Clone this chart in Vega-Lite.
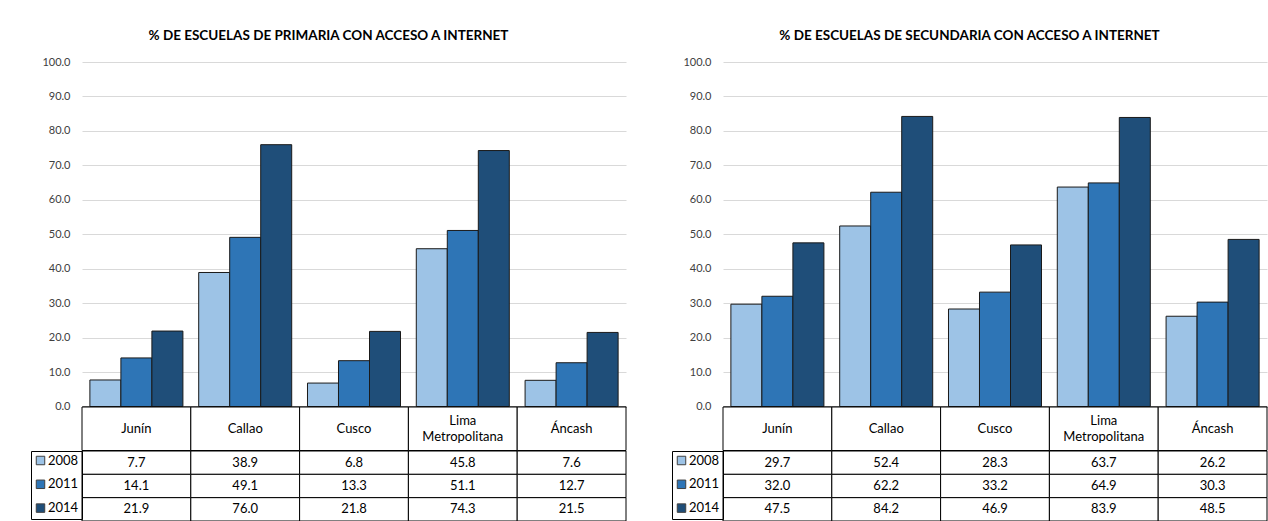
{
  "$schema": "https://vega.github.io/schema/vega-lite/v6.json",
  "background": "white",
  "padding": {"left": 30, "top": 28, "right": 0, "bottom": 0},
  "config": {
    "font": "Lato",
    "view": {"stroke": null},
    "text": {"font": "Lato"}
  },
  "datasets": {
    "escuelas": [
      {"nivel": "Primaria", "region": "Junín", "year": "2008", "value": 7.7},
      {"nivel": "Primaria", "region": "Junín", "year": "2011", "value": 14.1},
      {"nivel": "Primaria", "region": "Junín", "year": "2014", "value": 21.9},
      {"nivel": "Primaria", "region": "Callao", "year": "2008", "value": 38.9},
      {"nivel": "Primaria", "region": "Callao", "year": "2011", "value": 49.1},
      {"nivel": "Primaria", "region": "Callao", "year": "2014", "value": 76.0},
      {"nivel": "Primaria", "region": "Cusco", "year": "2008", "value": 6.8},
      {"nivel": "Primaria", "region": "Cusco", "year": "2011", "value": 13.3},
      {"nivel": "Primaria", "region": "Cusco", "year": "2014", "value": 21.8},
      {"nivel": "Primaria", "region": "Lima Metropolitana", "year": "2008", "value": 45.8},
      {"nivel": "Primaria", "region": "Lima Metropolitana", "year": "2011", "value": 51.1},
      {"nivel": "Primaria", "region": "Lima Metropolitana", "year": "2014", "value": 74.3},
      {"nivel": "Primaria", "region": "Áncash", "year": "2008", "value": 7.6},
      {"nivel": "Primaria", "region": "Áncash", "year": "2011", "value": 12.7},
      {"nivel": "Primaria", "region": "Áncash", "year": "2014", "value": 21.5},
      {"nivel": "Secundaria", "region": "Junín", "year": "2008", "value": 29.7},
      {"nivel": "Secundaria", "region": "Junín", "year": "2011", "value": 32.0},
      {"nivel": "Secundaria", "region": "Junín", "year": "2014", "value": 47.5},
      {"nivel": "Secundaria", "region": "Callao", "year": "2008", "value": 52.4},
      {"nivel": "Secundaria", "region": "Callao", "year": "2011", "value": 62.2},
      {"nivel": "Secundaria", "region": "Callao", "year": "2014", "value": 84.2},
      {"nivel": "Secundaria", "region": "Cusco", "year": "2008", "value": 28.3},
      {"nivel": "Secundaria", "region": "Cusco", "year": "2011", "value": 33.2},
      {"nivel": "Secundaria", "region": "Cusco", "year": "2014", "value": 46.9},
      {"nivel": "Secundaria", "region": "Lima Metropolitana", "year": "2008", "value": 63.7},
      {"nivel": "Secundaria", "region": "Lima Metropolitana", "year": "2011", "value": 64.9},
      {"nivel": "Secundaria", "region": "Lima Metropolitana", "year": "2014", "value": 83.9},
      {"nivel": "Secundaria", "region": "Áncash", "year": "2008", "value": 26.2},
      {"nivel": "Secundaria", "region": "Áncash", "year": "2011", "value": 30.3},
      {"nivel": "Secundaria", "region": "Áncash", "year": "2014", "value": 48.5}
    ]
  },
  "data": {"name": "escuelas"},
  "resolve": {"legend": {"color": "independent"}},
  "spacing": 44,
  "hconcat": [
    {
      "title": {"text": "% DE ESCUELAS DE PRIMARIA CON ACCESO A INTERNET", "fontSize": 13.5, "font": "Lato", "fontWeight": "bold", "color": "#000000", "anchor": "middle", "frame": "bounds", "offset": 14},
      "bounds": "flush",
      "spacing": 0,
      "resolve": {"legend": {"color": "independent"}},
      "transform": [{"filter": "datum.nivel == 'Primaria'"}],
      "vconcat": [
        {
          "width": 544, "height": 344.5,
          "mark": {"type": "bar", "stroke": "#1a1a1a", "strokeWidth": 1},
          "encoding": {
            "x": {"field": "region", "type": "nominal", "sort": ["Junín", "Callao", "Cusco", "Lima Metropolitana", "Áncash"], "scale": {"paddingInner": 0.145, "paddingOuter": 0.0725}, "axis": {"labels": false, "ticks": false, "title": null, "domainColor": "#595959", "domainWidth": 1.5}},
            "xOffset": {"field": "year", "type": "nominal", "sort": ["2008", "2011", "2014"]},
            "y": {"field": "value", "type": "quantitative", "scale": {"domain": [0, 100]}, "axis": {"title": null, "values": [0, 10, 20, 30, 40, 50, 60, 70, 80, 90, 100], "format": ".1f", "grid": true, "gridColor": "#d9d9d9", "domain": false, "ticks": false, "labelPadding": 12, "labelFontSize": 11, "labelColor": "#404040"}},
            "color": {"field": "year", "type": "nominal", "scale": {"domain": ["2008", "2011", "2014"], "range": ["#9dc3e6", "#2e75b6", "#1f4e79"]}, "legend": null}
          }
        },
        {
          "width": 544, "height": 43.5,
          "transform": [{"filter": "datum.year == '2008'"}],
          "encoding": {
            "x": {"field": "region", "type": "nominal", "sort": ["Junín", "Callao", "Cusco", "Lima Metropolitana", "Áncash"], "scale": {"paddingInner": 0, "paddingOuter": 0}, "axis": null}
          },
          "layer": [
            {"mark": {"type": "rect", "fill": "white", "stroke": "#000000", "strokeWidth": 1}},
            {"transform": [{"filter": "indexof(datum.region, ' ') < 0"}], "mark": {"type": "text", "fontSize": 13, "color": "#000000", "baseline": "middle"}, "encoding": {"text": {"field": "region", "type": "nominal"}}},
            {"transform": [{"filter": "indexof(datum.region, ' ') >= 0"}], "mark": {"type": "text", "fontSize": 13, "color": "#000000", "lineBreak": " ", "lineHeight": 16, "baseline": "middle", "dy": -8}, "encoding": {"text": {"field": "region", "type": "nominal"}}}
          ]
        },
        {
          "width": 544, "height": 70,
          "encoding": {
            "x": {"field": "region", "type": "nominal", "sort": ["Junín", "Callao", "Cusco", "Lima Metropolitana", "Áncash"], "scale": {"paddingInner": 0, "paddingOuter": 0}, "axis": null},
            "y": {"field": "year", "type": "nominal", "sort": ["2008", "2011", "2014"], "scale": {"paddingInner": 0, "paddingOuter": 0}, "axis": null}
          },
          "layer": [
            {"mark": {"type": "rect", "fill": "white", "stroke": "#000000", "strokeWidth": 1}},
            {"mark": {"type": "text", "fontSize": 13, "color": "#000000"}, "encoding": {"text": {"field": "value", "type": "quantitative", "format": ".1f"}}},
            {"mark": {"type": "square", "opacity": 0}, "encoding": {"color": {"field": "year", "type": "nominal", "scale": {"domain": ["2008", "2011", "2014"], "range": ["#9dc3e6", "#2e75b6", "#1f4e79"]}, "legend": {"orient": "left", "title": null, "offset": 0, "padding": 3, "strokeColor": "#000000", "symbolType": "square", "symbolSize": 72, "symbolStrokeColor": "#404040", "symbolStrokeWidth": 1, "symbolOpacity": 1, "labelFontSize": 13, "labelColor": "#000000", "labelOffset": 1, "rowPadding": 9.8}}}}
          ]
        }
      ]
    },
    {
      "title": {"text": "% DE ESCUELAS DE SECUNDARIA CON ACCESO A INTERNET", "fontSize": 13.5, "font": "Lato", "fontWeight": "bold", "color": "#000000", "anchor": "middle", "frame": "bounds", "offset": 14},
      "bounds": "flush",
      "spacing": 0,
      "resolve": {"legend": {"color": "independent"}},
      "transform": [{"filter": "datum.nivel == 'Secundaria'"}],
      "vconcat": [
        {
          "width": 544, "height": 344.5,
          "mark": {"type": "bar", "stroke": "#1a1a1a", "strokeWidth": 1},
          "encoding": {
            "x": {"field": "region", "type": "nominal", "sort": ["Junín", "Callao", "Cusco", "Lima Metropolitana", "Áncash"], "scale": {"paddingInner": 0.145, "paddingOuter": 0.0725}, "axis": {"labels": false, "ticks": false, "title": null, "domainColor": "#595959", "domainWidth": 1.5}},
            "xOffset": {"field": "year", "type": "nominal", "sort": ["2008", "2011", "2014"]},
            "y": {"field": "value", "type": "quantitative", "scale": {"domain": [0, 100]}, "axis": {"title": null, "values": [0, 10, 20, 30, 40, 50, 60, 70, 80, 90, 100], "format": ".1f", "grid": true, "gridColor": "#d9d9d9", "domain": false, "ticks": false, "labelPadding": 12, "labelFontSize": 11, "labelColor": "#404040"}},
            "color": {"field": "year", "type": "nominal", "scale": {"domain": ["2008", "2011", "2014"], "range": ["#9dc3e6", "#2e75b6", "#1f4e79"]}, "legend": null}
          }
        },
        {
          "width": 544, "height": 43.5,
          "transform": [{"filter": "datum.year == '2008'"}],
          "encoding": {
            "x": {"field": "region", "type": "nominal", "sort": ["Junín", "Callao", "Cusco", "Lima Metropolitana", "Áncash"], "scale": {"paddingInner": 0, "paddingOuter": 0}, "axis": null}
          },
          "layer": [
            {"mark": {"type": "rect", "fill": "white", "stroke": "#000000", "strokeWidth": 1}},
            {"transform": [{"filter": "indexof(datum.region, ' ') < 0"}], "mark": {"type": "text", "fontSize": 13, "color": "#000000", "baseline": "middle"}, "encoding": {"text": {"field": "region", "type": "nominal"}}},
            {"transform": [{"filter": "indexof(datum.region, ' ') >= 0"}], "mark": {"type": "text", "fontSize": 13, "color": "#000000", "lineBreak": " ", "lineHeight": 16, "baseline": "middle", "dy": -8}, "encoding": {"text": {"field": "region", "type": "nominal"}}}
          ]
        },
        {
          "width": 544, "height": 70,
          "encoding": {
            "x": {"field": "region", "type": "nominal", "sort": ["Junín", "Callao", "Cusco", "Lima Metropolitana", "Áncash"], "scale": {"paddingInner": 0, "paddingOuter": 0}, "axis": null},
            "y": {"field": "year", "type": "nominal", "sort": ["2008", "2011", "2014"], "scale": {"paddingInner": 0, "paddingOuter": 0}, "axis": null}
          },
          "layer": [
            {"mark": {"type": "rect", "fill": "white", "stroke": "#000000", "strokeWidth": 1}},
            {"mark": {"type": "text", "fontSize": 13, "color": "#000000"}, "encoding": {"text": {"field": "value", "type": "quantitative", "format": ".1f"}}},
            {"mark": {"type": "square", "opacity": 0}, "encoding": {"color": {"field": "year", "type": "nominal", "scale": {"domain": ["2008", "2011", "2014"], "range": ["#9dc3e6", "#2e75b6", "#1f4e79"]}, "legend": {"orient": "left", "title": null, "offset": 0, "padding": 3, "strokeColor": "#000000", "symbolType": "square", "symbolSize": 72, "symbolStrokeColor": "#404040", "symbolStrokeWidth": 1, "symbolOpacity": 1, "labelFontSize": 13, "labelColor": "#000000", "labelOffset": 1, "rowPadding": 9.8}}}}
          ]
        }
      ]
    }
  ]
}
